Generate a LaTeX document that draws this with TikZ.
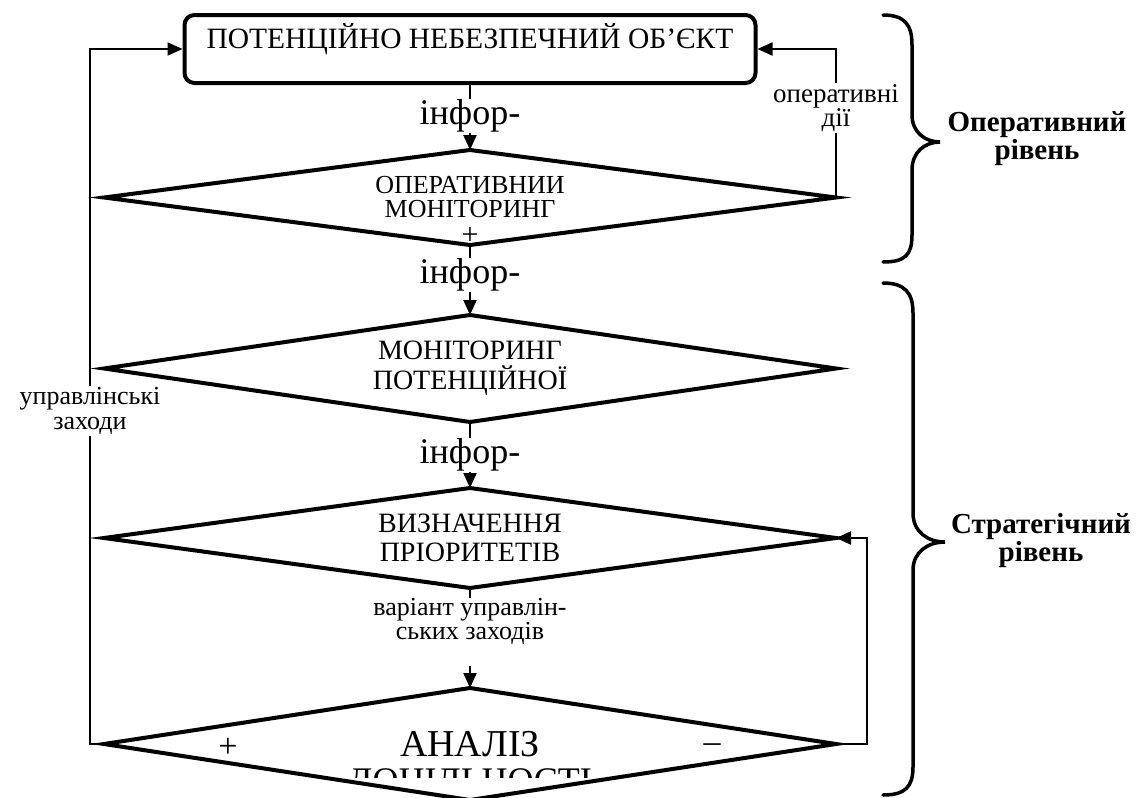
\documentclass[tikz,border=0pt]{standalone}
\usepackage{fontspec}
\setmainfont{Liberation Serif}
\usetikzlibrary{shapes.geometric,arrows.meta}
\tikzset{
  objbox/.style={draw, line width=4pt, rounded corners=10pt, minimum width=571pt,
    inner xsep=0pt, inner ysep=0pt, text height=33pt, text depth=35pt,
    font=\fontsize{29.5pt}{30pt}\selectfont},
  dia/.style={draw, diamond, shape aspect=7, line width=4pt, inner sep=0pt,
    outer sep=0pt, minimum width=732pt, align=center},
  conn/.style={line width=2pt},
  arr/.style={conn, -{Triangle[length=15pt,width=13pt]}},
  lbl/.style={fill=white, inner sep=1pt, align=center},
  infolbl/.style={lbl, font=\fontsize{36pt}{36pt}\selectfont},
  smalllbl/.style={lbl, font=\fontsize{27pt}{22pt}\selectfont},
  bracepath/.style={line width=3.5pt, line cap=round},
  lvl/.style={align=center, font=\bfseries\fontsize{29pt}{28pt}\selectfont}
}
\begin{document}
\begin{tikzpicture}[x=1pt,y=-1pt]
\useasboundingbox (0,0) rectangle (1136,798);

% main nodes
\node[objbox] (obj) at (470,49) {ПОТЕНЦІЙНО НЕБЕЗПЕЧНИЙ ОБ’ЄКТ};
\node[dia, minimum height=95pt, font=\fontsize{26pt}{24pt}\selectfont] (D1) at (470,197.5) {ОПЕРАТИВНИИ\\МОНІТОРИНГ};
\node[dia, minimum height=107pt, font=\fontsize{28pt}{30pt}\selectfont] (D2) at (470,368.5) {МОНІТОРИНГ\\ПОТЕНЦІЙНОЇ};
\node[dia, minimum height=100pt, font=\fontsize{28pt}{29pt}\selectfont] (D3) at (470,538) {ВИЗНАЧЕННЯ\\ПРІОРИТЕТІВ};
\node[dia, minimum height=112pt, font=\fontsize{38pt}{38pt}\selectfont] (D4) at (470,744) {АНАЛІЗ};

% clipped second line of the last diamond
\begin{scope}
  \clip (300,760) rectangle (640,777);
  \node[font=\fontsize{36pt}{36pt}\selectfont, inner sep=0pt] (D4b) at (470,784) {ДОЦІЛЬНОСТІ};
\end{scope}

% connectors down the middle
\draw[arr] (obj.south) -- (D1.north);
\draw[arr] (D1.south) -- (D2.north);
\draw[arr] (D2.south) -- (D3.north);
\node[inner sep=0pt, align=center, font=\fontsize{26pt}{22pt}\selectfont] (var) at (470,621) {варіант управлін-\\ських заходів};
\draw[conn] (D3.south) -- (var.north);
\coordinate (vstart) at (470,666);
\draw[arr] (vstart) -- (D4.north);

% feedback loops
\draw[arr] (D4.west) -- ++(-14,0) |- (obj.west);
\draw[arr] (D1.east) |- (obj.east);
\draw[arr] (D4.east) -- ++(31,0) |- (D3.east);

% labels on connectors
\node[infolbl] (i1) at (470,116) {інфор-};
\node[infolbl] (i2) at (470,275) {інфор-};
\node[infolbl] (i3) at (470,455) {інфор-};
\node[smalllbl] (opd) at (836,108) {оперативні\\дії};
\node[smalllbl, font=\fontsize{26pt}{25pt}\selectfont] (upr) at (90,411) {управлінські\\заходи};

% signs
\node[font=\fontsize{30pt}{30pt}\selectfont, inner sep=0pt] (p1) at (470,236) {+};
\node[font=\fontsize{34pt}{34pt}\selectfont, inner sep=0pt] (p4) at (228,748) {+};
\node[font=\fontsize{34pt}{34pt}\selectfont, inner sep=0pt] (m4) at (712,748) {–};

% braces
\draw[bracepath] (883,15) .. controls (905,15) and (912,25) .. (912,45)
  -- (912,115) .. controls (912,132) and (925,142) .. (940,142)
  .. controls (925,142) and (912,152) .. (912,170)
  -- (912,235) .. controls (912,255) and (905,262) .. (883,262);
\draw[bracepath] (883,283) .. controls (905,283) and (913,293) .. (913,313)
  -- (913,513) .. controls (913,532) and (928,542) .. (945,542)
  .. controls (928,542) and (913,552) .. (913,570)
  -- (913,767) .. controls (913,787) and (905,795) .. (883,795);

% level labels
\node[lvl] (lv1) at (1037,139) {Оперативний\\рівень};
\node[lvl] (lv2) at (1041,541) {Стратегічний\\рівень};
\end{tikzpicture}
\end{document}
